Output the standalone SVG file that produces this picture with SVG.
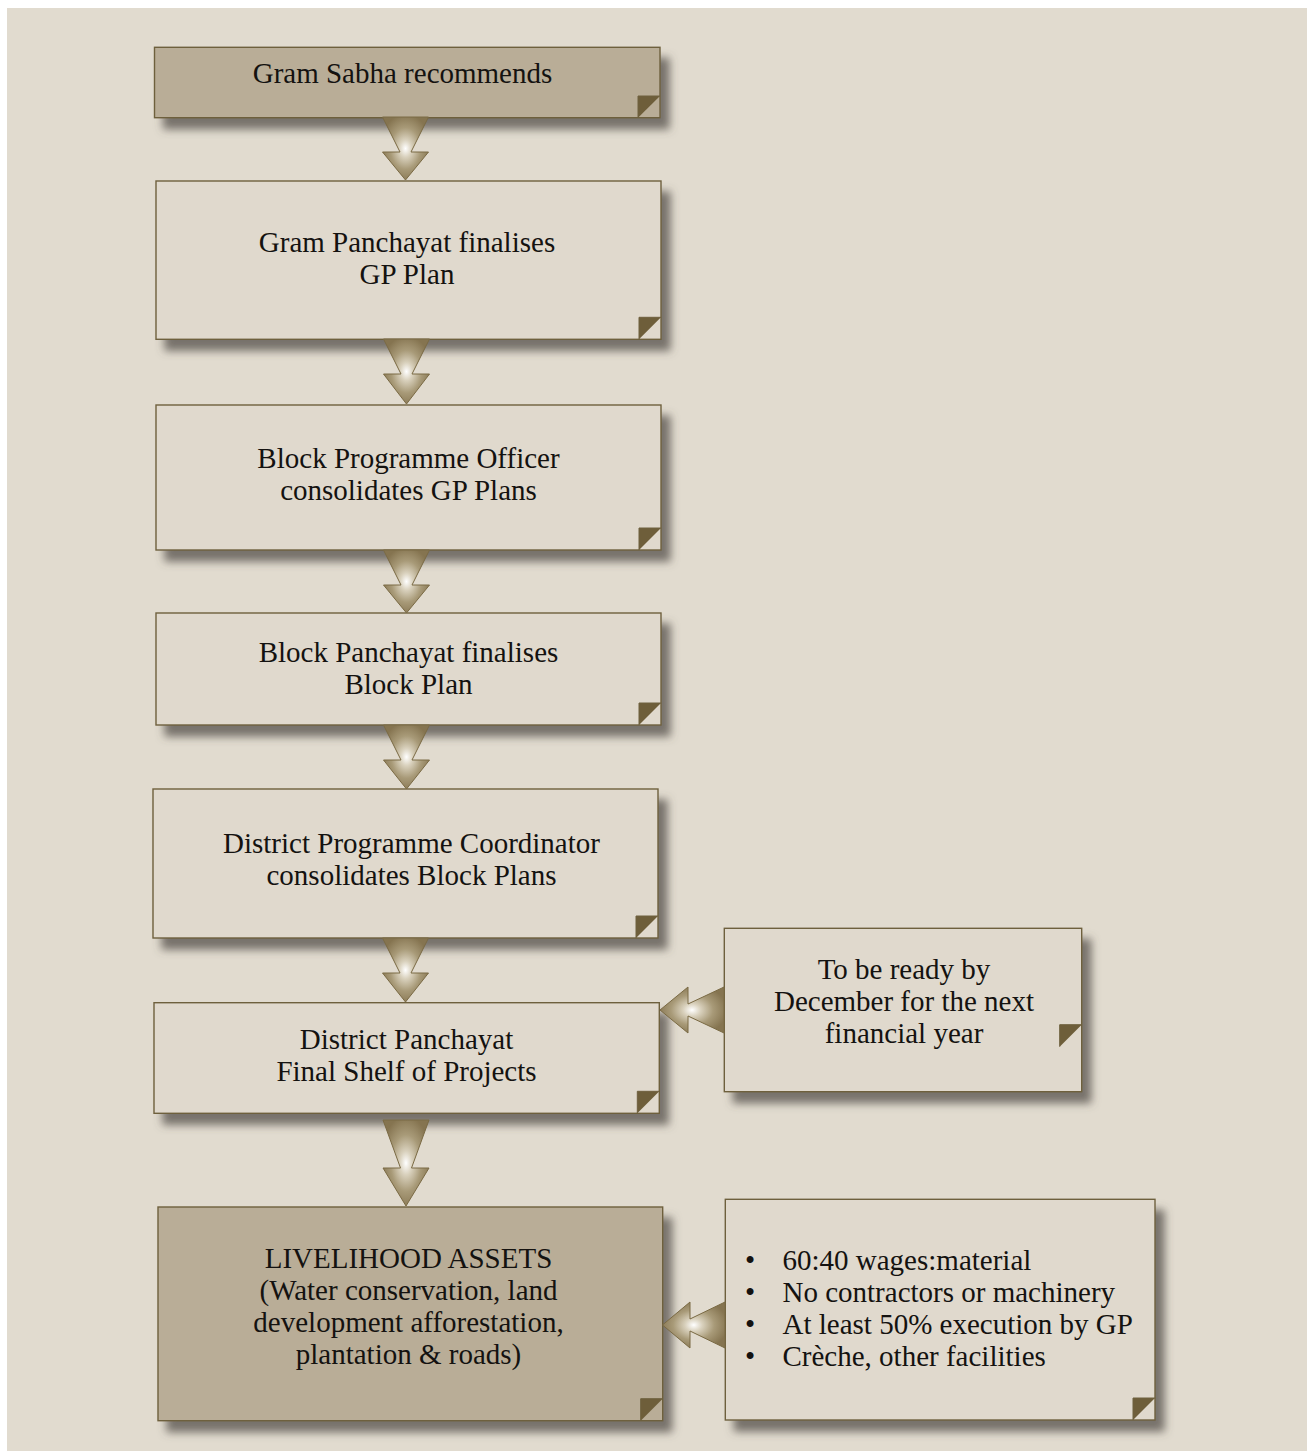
<svg xmlns="http://www.w3.org/2000/svg" width="1307" height="1451" viewBox="0 0 1307 1451">
<defs>
<style>
.box{stroke:#6e603e;stroke-width:1.4;filter:url(#shadow)}
.light{fill:#e0d9cd}
.dark{fill:#b9ad97}
.foldtri{fill:#6e5e3a}
.foldedge{fill:none;stroke:#6e603e;stroke-width:1}
.lbl{font-family:"Liberation Serif","Times New Roman",serif;font-size:29px;fill:#141210;text-anchor:middle}
.lst{font-family:"Liberation Serif","Times New Roman",serif;font-size:29px;fill:#141210}
.arrow{fill:url(#arrowGrad);stroke:#7a6a44;stroke-width:1}
</style>
<filter id="shadow" x="-10%" y="-10%" width="130%" height="140%">
<feDropShadow dx="9" dy="11" stdDeviation="4.5" flood-color="#55504a" flood-opacity="0.75"/>
</filter>
<radialGradient id="arrowGrad" cx="0.5" cy="0.5" r="0.55">
<stop offset="0" stop-color="#ffffff"/>
<stop offset="0.25" stop-color="#d9d1bd"/>
<stop offset="0.6" stop-color="#a89a78"/>
<stop offset="1" stop-color="#857450"/>
</radialGradient>
</defs>
<rect x="0" y="0" width="1307" height="1451" fill="#ffffff"/>
<rect x="7" y="8" width="1300" height="1443" fill="#e1dbcf"/>

<g id="n1">
<rect class="box dark" x="154.5" y="47.3" width="505.5" height="70.4"/>
<path class="foldtri" d="M638 96 H660 L638 117.7 Z"/>
<path class="foldedge" d="M638 117.7 V96 H660"/>
<text class="lbl" x="402.5" y="83">Gram Sabha recommends</text>
</g>

<g id="n2">
<rect class="box light" x="156" y="181" width="505" height="158.3"/>
<path class="foldtri" d="M639 317.3 H661 L639 339.3 Z"/>
<path class="foldedge" d="M639 339.3 V317.3 H661"/>
<text class="lbl" y="252"><tspan x="407" y="252">Gram Panchayat finalises</tspan><tspan x="407" y="284">GP Plan</tspan></text>
</g>

<g id="n3">
<rect class="box light" x="156" y="405" width="505" height="145"/>
<path class="foldtri" d="M639 528 H661 L639 550 Z"/>
<path class="foldedge" d="M639 550 V528 H661"/>
<text class="lbl"><tspan x="408.5" y="468">Block Programme Officer</tspan><tspan x="408.5" y="500">consolidates GP Plans</tspan></text>
</g>

<g id="n4">
<rect class="box light" x="156" y="613" width="505" height="112"/>
<path class="foldtri" d="M639 703 H661 L639 725 Z"/>
<path class="foldedge" d="M639 725 V703 H661"/>
<text class="lbl"><tspan x="408.5" y="662">Block Panchayat finalises</tspan><tspan x="408.5" y="694">Block Plan</tspan></text>
</g>

<g id="n5">
<rect class="box light" x="153" y="789" width="505" height="149"/>
<path class="foldtri" d="M636 916 H658 L636 938 Z"/>
<path class="foldedge" d="M636 938 V916 H658"/>
<text class="lbl"><tspan x="411.5" y="853">District Programme Coordinator</tspan><tspan x="411.5" y="885">consolidates Block Plans</tspan></text>
</g>

<g id="n6">
<rect class="box light" x="154" y="1002.7" width="505.3" height="110.6"/>
<path class="foldtri" d="M637.3 1091.3 H659.3 L637.3 1113.3 Z"/>
<path class="foldedge" d="M637.3 1113.3 V1091.3 H659.3"/>
<text class="lbl"><tspan x="406.5" y="1049">District Panchayat</tspan><tspan x="406.5" y="1081">Final Shelf of Projects</tspan></text>
</g>

<g id="n7">
<rect class="box dark" x="158" y="1207" width="504.7" height="213.7"/>
<path class="foldtri" d="M640.7 1398.7 H662.7 L640.7 1420.7 Z"/>
<path class="foldedge" d="M640.7 1420.7 V1398.7 H662.7"/>
<text class="lbl"><tspan x="408.5" y="1268">LIVELIHOOD ASSETS</tspan><tspan x="408.5" y="1300">(Water conservation, land</tspan><tspan x="408.5" y="1332">development afforestation,</tspan><tspan x="408.5" y="1364">plantation &amp; roads)</tspan></text>
</g>

<g id="s1">
<rect class="box light" x="724.3" y="928.3" width="357.4" height="163.4"/>
<path class="foldtri" d="M1059.7 1024.7 H1081.7 L1059.7 1046.7 Z"/>
<path class="foldedge" d="M1059.7 1046.7 V1024.7 H1081.7"/>
<text class="lbl"><tspan x="904" y="979">To be ready by</tspan><tspan x="904" y="1011">December for the next</tspan><tspan x="904" y="1043">financial year</tspan></text>
</g>

<g id="s2">
<rect class="box light" x="725.3" y="1199.3" width="429.7" height="220.7"/>
<path class="foldtri" d="M1133 1398 H1155 L1133 1420 Z"/>
<path class="foldedge" d="M1133 1420 V1398 H1155"/>
<text class="lst"><tspan x="745" y="1270">•</tspan><tspan x="782.5" y="1270">60:40 wages:material</tspan><tspan x="745" y="1302">•</tspan><tspan x="782.5" y="1302">No contractors or machinery</tspan><tspan x="745" y="1334">•</tspan><tspan x="782.5" y="1334">At least 50% execution by GP</tspan><tspan x="745" y="1366">•</tspan><tspan x="782.5" y="1366">Crèche, other facilities</tspan></text>
</g>

<g id="connectors">
<path class="arrow" d="M382.5 117 H428.5 L411 152 H428.5 L405.5 180 L382.5 152 H400 Z"/>
<path class="arrow" d="M383.5 339 H429.5 L412 374 H429.5 L406.5 404 L383.5 374 H401 Z"/>
<path class="arrow" d="M383.5 550 H429.5 L412 585 H429.5 L406.5 613 L383.5 585 H401 Z"/>
<path class="arrow" d="M383.5 725 H429.5 L412 760 H429.5 L406.5 789 L383.5 760 H401 Z"/>
<path class="arrow" d="M382.5 938 H428.5 L411 973 H428.5 L405.5 1002 L382.5 973 H400 Z"/>
<path class="arrow" d="M383 1120 H429 L411.5 1168 H429 L406 1206 L383 1168 H400.5 Z"/>
<path class="arrow" d="M724 987 V1033 L688 1016 V1033 L660 1010 L688 987 V1004 Z"/>
<path class="arrow" d="M725 1302 V1348 L690 1331 V1348 L662.5 1325 L690 1302 V1319 Z"/>
</g>
</svg>
